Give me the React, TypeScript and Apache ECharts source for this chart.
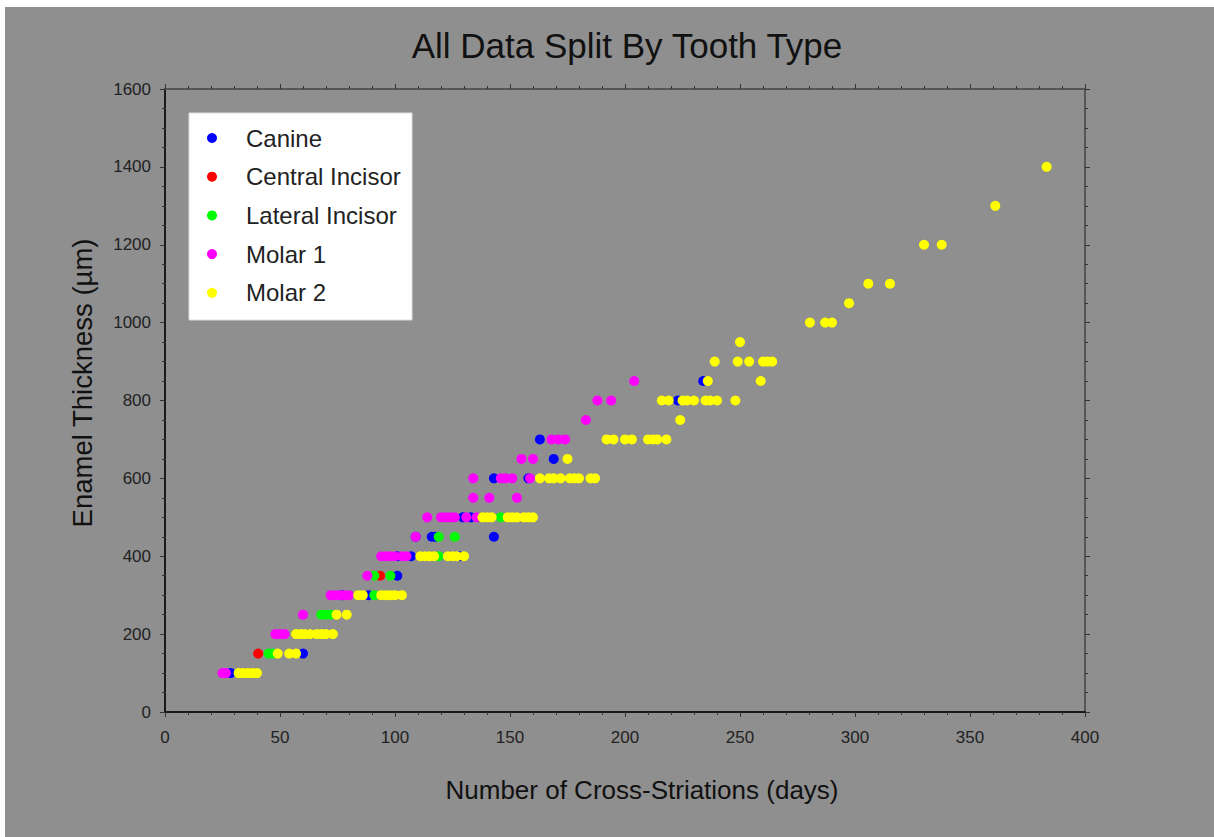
import React, { useEffect, useRef } from "react";
import * as echarts from "echarts";

const seriesNames = ["Canine", "Central Incisor", "Lateral Incisor", "Molar 1", "Molar 2"];
const seriesColors = ["#0000ff", "#ff0000", "#00ff00", "#ff00ff", "#ffff00"];

const xTicks = [0, 50, 100, 150, 200, 250, 300, 350, 400];
const yTicks = [0, 200, 400, 600, 800, 1000, 1200, 1400, 1600];

const canine: number[][] = [
  [28.5, 100], [60, 150], [62, 200], [77, 300], [88.5, 300], [101, 350], [101, 400], [107, 400],
  [128, 400], [109, 450], [116, 450], [117.5, 450], [143, 450], [129.5, 500], [133, 500],
  [143, 600], [158, 600], [169, 650], [163, 700], [223, 800], [234, 850],
];

const centralIncisor: number[][] = [
  [40.5, 150], [93.5, 350],
];

const lateralIncisor: number[][] = [
  [45, 150], [47, 150], [68, 250], [70, 250], [72, 250], [91, 300], [91, 350], [98, 350],
  [119, 400], [119, 450], [126, 450], [146, 500],
];

const molar1: number[][] = [
  [25, 100], [26.5, 100], [48, 200], [50, 200], [52, 200], [60, 250], [72, 300], [74, 300],
  [76, 300], [78, 300], [80, 300], [88, 350], [94, 400], [96, 400], [98, 400], [100, 400],
  [103, 400], [105, 400], [109, 450], [114, 500], [120, 500], [122, 500], [124, 500], [126, 500],
  [131, 500], [135.5, 500], [134, 550], [141, 550], [153, 550], [134, 600], [146, 600], [148, 600],
  [151, 600], [158.7, 600], [155, 650], [160, 650], [168, 700], [171, 700], [174, 700], [183, 750],
  [188, 800], [194, 800], [204, 850],
];

const molar2: number[][] = [
  [32, 100], [34, 100], [36, 100], [38, 100], [40, 100],
  [49, 150], [54, 150], [57, 150],
  [57, 200], [59, 200], [61, 200], [63, 200], [66, 200], [68, 200], [70, 200], [73, 200],
  [74.6, 250], [79, 250],
  [84, 300], [86, 300], [94, 300], [96, 300], [98, 300], [100, 300], [103, 300],
  [111, 400], [113, 400], [115, 400], [117, 400], [123, 400], [125, 400], [127, 400], [130, 400],
  [138, 500], [140, 500], [142, 500], [149, 500], [151, 500], [153, 500], [156, 500], [158, 500], [160, 500],
  [163, 600], [167, 600], [169, 600], [172, 600], [176, 600], [178, 600], [180, 600], [185, 600], [187, 600],
  [175, 650],
  [192, 700], [195, 700], [200, 700], [203, 700], [210, 700], [212, 700], [214, 700], [218, 700],
  [224, 750],
  [216, 800], [219, 800], [225, 800], [227, 800], [230, 800], [235, 800], [237, 800], [240, 800], [248, 800],
  [236, 850], [259, 850],
  [239, 900], [249, 900], [254, 900], [260, 900], [262, 900], [264, 900],
  [250, 950],
  [280.4, 1000], [287, 1000], [290, 1000],
  [297.4, 1050],
  [305.8, 1100], [315.2, 1100],
  [330, 1200], [337.7, 1200],
  [361, 1300],
  [383.3, 1400],
];

const allSeriesData = [canine, centralIncisor, lateralIncisor, molar1, molar2];

const FONT = "'Liberation Sans', Arial, sans-serif";

export default function App() {
  const ref = useRef<HTMLDivElement>(null);

  useEffect(() => {
    if (!ref.current) return;
    const chart = echarts.init(ref.current, undefined, { renderer: "svg" });

    const baseAxis = (min: number, max: number, interval: number, minorSplit: number) => ({
      type: "value" as const,
      min,
      max,
      interval,
      splitLine: { show: false },
      minorTick: { show: true, splitNumber: minorSplit, length: 3, lineStyle: { color: "#333", width: 1 } },
      axisTick: { show: true, length: 5, inside: false, lineStyle: { color: "#333", width: 1 } },
    });

    const option: any = {
      animation: false,
      backgroundColor: "#8f8f8f",
      textStyle: { fontFamily: FONT },
      grid: { left: 160, right: 129, top: 82, bottom: 125, containLabel: false },
      xAxis: [
        {
          ...baseAxis(0, 400, 50, 5),
          position: "bottom",
          axisLine: { show: true, onZero: false, lineStyle: { color: "#1a1a1a", width: 2 } },
          axisLabel: {
            fontSize: 17,
            color: "#222",
            margin: 17,
            fontFamily: FONT,
            customValues: xTicks,
            formatter: (v: number) => String(v),
          },
        },
        {
          ...baseAxis(0, 400, 50, 5),
          position: "top",
          axisLine: { show: true, onZero: false, lineStyle: { color: "#555", width: 2 } },
          axisLabel: { show: false },
        },
      ],
      yAxis: [
        {
          ...baseAxis(0, 1600, 200, 4),
          position: "left",
          axisLine: { show: true, onZero: false, lineStyle: { color: "#1a1a1a", width: 2 } },
          axisLabel: {
            fontSize: 17,
            color: "#222",
            margin: 14,
            fontFamily: FONT,
            customValues: yTicks,
            formatter: (v: number) => String(v),
          },
        },
        {
          ...baseAxis(0, 1600, 200, 4),
          position: "right",
          axisLine: { show: true, onZero: false, lineStyle: { color: "#555", width: 2 } },
          axisLabel: { show: false },
        },
      ],
      legend: {
        show: true,
        orient: "vertical",
        left: 202,
        top: 119,
        padding: 0,
        itemGap: 14.7,
        itemWidth: 10,
        itemHeight: 10,
        icon: "circle",
        data: seriesNames,
        z: 10,
        formatter: (name: string) => `{a|${name}}`,
        textStyle: {
          rich: {
            a: {
              fontSize: 24,
              lineHeight: 24,
              color: "#222",
              fontFamily: FONT,
              padding: [0, 0, 0, 24],
            },
          },
        },
      },
      graphic: [
        {
          type: "rect",
          z: 5,
          shape: { x: 184, y: 106, width: 223, height: 207 },
          style: { fill: "#ffffff", stroke: "#dddddd", lineWidth: 1 },
        },
        {
          type: "text",
          x: 622,
          y: 38,
          style: {
            text: "All Data Split By Tooth Type",
            fontSize: 35,
            fontFamily: FONT,
            fill: "#111",
            textAlign: "center",
            textVerticalAlign: "middle",
          },
        },
        {
          type: "text",
          x: 637,
          y: 783,
          style: {
            text: "Number of Cross-Striations (days)",
            fontSize: 26,
            fontFamily: FONT,
            fill: "#111",
            textAlign: "center",
            textVerticalAlign: "middle",
          },
        },
        {
          type: "text",
          x: 77,
          y: 376,
          rotation: Math.PI / 2,
          style: {
            text: "Enamel Thickness (µm)",
            fontSize: 27.5,
            fontFamily: FONT,
            fill: "#111",
            textAlign: "center",
            textVerticalAlign: "middle",
          },
        },
      ],
      series: seriesNames.map((name, i) => ({
        name,
        type: "scatter",
        xAxisIndex: 0,
        yAxisIndex: 0,
        symbol: "circle",
        symbolSize: 10,
        itemStyle: { color: seriesColors[i], opacity: 1 },
        data: allSeriesData[i],
      })),
    };

    chart.setOption(option);
    return () => chart.dispose();
  }, []);

  return (
    <div style={{ position: "fixed", left: 0, top: 0, width: 1214, height: 837, background: "#ffffff" }}>
      <div ref={ref} style={{ position: "absolute", left: 5, top: 7, width: 1209, height: 830 }} />
    </div>
  );
}
